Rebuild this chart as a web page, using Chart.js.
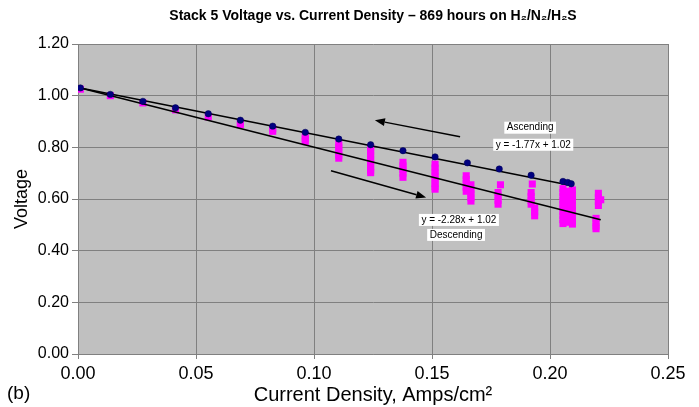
<!DOCTYPE html>
<html>
<head>
<meta charset="utf-8">
<script src="https://cdn.jsdelivr.net/npm/chart.js@4.4.0/dist/chart.umd.min.js"></script>
<style>
html,body{margin:0;padding:0;background:#fff;}
#wrap{width:699px;height:407px;position:relative;}
</style>
</head>
<body>
<div id="wrap"><canvas id="c" width="699" height="407"></canvas></div>
<script>
// Ascending (navy circles)
const ascX = [0.001, 0.0137, 0.0275, 0.0413, 0.0552, 0.0688, 0.0825, 0.0963, 0.1105, 0.124, 0.1377, 0.1513, 0.165, 0.1785, 0.192, 0.2055, 0.2075, 0.209];
const ascY = [1.03, 1.005, 0.978, 0.953, 0.93, 0.905, 0.882, 0.858, 0.832, 0.81, 0.787, 0.763, 0.74, 0.716, 0.692, 0.668, 0.664, 0.659];

// Descending (magenta squares)
const descX = [
  0.001, 0.0137, 0.0275, 0.0413, 0.0552,
  0.0688, 0.0688, 0.0825, 0.0825,
  0.0963, 0.0963, 0.0963,
  0.1105, 0.1105, 0.1105, 0.1105, 0.1105,
  0.124, 0.124, 0.124, 0.124, 0.124, 0.124, 0.124, 0.124,
  0.1377, 0.1377, 0.1377, 0.1377, 0.1377,
  0.1513, 0.1513, 0.1513, 0.1513, 0.1513, 0.1513, 0.1513, 0.1513,
  0.1645, 0.1645, 0.1645, 0.1645, 0.1645, 0.1665, 0.1665, 0.1665, 0.1665, 0.1665,
  0.179, 0.178, 0.178, 0.178, 0.178,
  0.1925, 0.192, 0.192, 0.192, 0.192, 0.1935, 0.1935, 0.1935,
  0.2055, 0.2055, 0.2055, 0.2055, 0.2055, 0.2055, 0.2055, 0.2055, 0.2055, 0.2055,
  0.2075, 0.2075, 0.2075, 0.2075, 0.2075, 0.2075, 0.2075,
  0.2095, 0.2095, 0.2095, 0.2095, 0.2095, 0.2095, 0.2095, 0.2095,
  0.2205, 0.2205, 0.2205, 0.2205, 0.2215,
  0.2195, 0.2195, 0.2195, 0.2195
];
const descY = [
  1.025, 1.0, 0.972, 0.945, 0.918,
  0.895, 0.888, 0.872, 0.862,
  0.845, 0.832, 0.822,
  0.815, 0.80, 0.785, 0.77, 0.758,
  0.80, 0.785, 0.77, 0.755, 0.74, 0.725, 0.712, 0.702,
  0.742, 0.728, 0.714, 0.70, 0.684,
  0.735, 0.72, 0.705, 0.69, 0.675, 0.66, 0.648, 0.638,
  0.69, 0.675, 0.66, 0.645, 0.63, 0.655, 0.635, 0.62, 0.605, 0.592,
  0.655, 0.625, 0.61, 0.595, 0.58,
  0.658, 0.625, 0.61, 0.595, 0.58, 0.565, 0.55, 0.535,
  0.64, 0.625, 0.61, 0.595, 0.58, 0.565, 0.55, 0.535, 0.52, 0.505,
  0.63, 0.61, 0.59, 0.57, 0.55, 0.53, 0.51,
  0.635, 0.615, 0.595, 0.575, 0.555, 0.535, 0.515, 0.503,
  0.622, 0.605, 0.59, 0.575, 0.597,
  0.525, 0.51, 0.495, 0.485
];

// Trend lines (end points)
const ascLineX = [0.001, 0.209];
const ascLineY = [1.03, 0.652];
const descLineX = [0.001, 0.2215];
const descLineY = [1.03, 0.52];

// Tick values
const xTicks = [0, 0.05, 0.10, 0.15, 0.20, 0.25];
const yTicks = [0, 0.2, 0.4, 0.6, 0.8, 1.0, 1.2];

const titleText = 'Stack 5 Voltage vs. Current Density \u2013 869 hours on H\u2082/N\u2082/H\u2082S';
const xTitle = 'Current Density, Amps/cm\u00B2';
const yTitle = 'Voltage';
const panelLabel = '(b)';

// Annotations (data coordinates)
const notes = [
  {text: 'Ascending', x: 0.1916, y: 0.876},
  {text: 'y = -1.77x + 1.02', x: 0.1929, y: 0.810},
  {text: 'y = -2.28x + 1.02', x: 0.1614, y: 0.519},
  {text: 'Descending', x: 0.1602, y: 0.461}
];
const arrows = [
  {x1: 0.1619, y1: 0.841, x2: 0.1258, y2: 0.905},
  {x1: 0.1072, y1: 0.709, x2: 0.1475, y2: 0.606}
];

const FONT = '"Liberation Sans", Arial, Helvetica, sans-serif';
const toPts = (xs, ys) => xs.map((x, i) => ({x: x, y: ys[i]}));

const bgPlugin = {
  id: 'bg',
  beforeDraw(chart) {
    const {ctx, chartArea: a} = chart;
    ctx.save();
    ctx.fillStyle = '#ffffff';
    ctx.fillRect(0, 0, chart.width, chart.height);
    ctx.fillStyle = '#c0c0c0';
    ctx.fillRect(a.left, a.top, a.right - a.left, a.bottom - a.top);
    ctx.restore();
  }
};

const textPlugin = {
  id: 'texts',
  afterDraw(chart) {
    const {ctx, chartArea: a, scales} = chart;
    const xs = scales.x, ys = scales.y;
    ctx.save();
    // title
    ctx.fillStyle = '#000';
    ctx.font = 'bold 14px ' + FONT;
    ctx.textAlign = 'center';
    ctx.textBaseline = 'middle';
    ctx.fillText(titleText, (a.left + a.right) / 2, 16);
    // panel label
    ctx.font = '19px ' + FONT;
    ctx.textAlign = 'left';
    ctx.fillText(panelLabel, 7, 394);
    // arrows
    ctx.strokeStyle = '#000';
    ctx.fillStyle = '#000';
    ctx.lineWidth = 1.5;
    arrows.forEach(ar => {
      const x1 = xs.getPixelForValue(ar.x1), y1 = ys.getPixelForValue(ar.y1);
      const x2 = xs.getPixelForValue(ar.x2), y2 = ys.getPixelForValue(ar.y2);
      const ang = Math.atan2(y2 - y1, x2 - x1);
      const L = 10, W = 4;
      const bx = x2 - L * Math.cos(ang), by = y2 - L * Math.sin(ang);
      ctx.beginPath();
      ctx.moveTo(x1, y1);
      ctx.lineTo(bx, by);
      ctx.stroke();
      ctx.beginPath();
      ctx.moveTo(x2, y2);
      ctx.lineTo(bx + W * Math.sin(ang), by - W * Math.cos(ang));
      ctx.lineTo(bx - W * Math.sin(ang), by + W * Math.cos(ang));
      ctx.closePath();
      ctx.fill();
    });
    // annotation boxes
    ctx.font = '10px ' + FONT;
    ctx.textAlign = 'center';
    ctx.textBaseline = 'middle';
    notes.forEach(n => {
      const px = xs.getPixelForValue(n.x), py = ys.getPixelForValue(n.y);
      const w = ctx.measureText(n.text).width + 5;
      ctx.fillStyle = '#ffffff';
      ctx.fillRect(px - w / 2, py - 6, w, 12);
      ctx.fillStyle = '#000';
      ctx.fillText(n.text, px, py);
    });
    ctx.restore();
  }
};

new Chart(document.getElementById('c'), {
  type: 'scatter',
  data: {
    datasets: [
      {
        label: 'Ascending',
        data: toPts(ascX, ascY),
        backgroundColor: '#000080',
        borderColor: '#000050',
        borderWidth: 0.5,
        pointRadius: 3.2,
        pointStyle: 'circle',
        showLine: false
      },
      {
        label: 'Ascending fit',
        data: toPts(ascLineX, ascLineY),
        showLine: true,
        borderColor: '#000000',
        borderWidth: 1.5,
        pointRadius: 0,
        fill: false
      },
      {
        label: 'Descending fit',
        data: toPts(descLineX, descLineY),
        showLine: true,
        borderColor: '#000000',
        borderWidth: 1.5,
        pointRadius: 0,
        fill: false
      },
      {
        label: 'Descending',
        data: toPts(descX, descY),
        backgroundColor: '#ff00ff',
        borderColor: '#ff00ff',
        borderWidth: 0,
        pointRadius: 5,
        pointStyle: 'rect',
        showLine: false
      }
    ]
  },
  options: {
    responsive: false,
    animation: false,
    events: [],
    layout: {padding: {left: 0, right: 31, top: 44, bottom: 0}},
    plugins: {
      legend: {display: false},
      tooltip: {enabled: false},
      title: {display: false}
    },
    scales: {
      x: {
        type: 'linear',
        min: 0, max: 0.25,
        afterFit(s) { s.height = 53; },
        afterBuildTicks(s) { s.ticks = xTicks.map(v => ({value: v})); },
        ticks: {
          color: '#000',
          font: {family: FONT, size: 18},
          padding: 4,
          maxRotation: 0,
          callback: v => Number(v).toFixed(2)
        },
        grid: {color: '#808080', lineWidth: 1, tickLength: 5, tickColor: '#808080'},
        border: {color: '#808080', width: 1},
        title: {
          display: true,
          text: xTitle,
          color: '#000',
          font: {family: FONT, size: 20, lineHeight: 0.8},
          padding: {top: 0, bottom: 4}
        }
      },
      y: {
        type: 'linear',
        min: 0, max: 1.2,
        afterFit(s) { s.width = 78; },
        afterBuildTicks(s) { s.ticks = yTicks.map(v => ({value: v})); },
        ticks: {
          color: '#000',
          font: {family: FONT, size: 16},
          padding: 3,
          callback: v => Number(v).toFixed(2)
        },
        grid: {color: '#808080', lineWidth: 1, tickLength: 6, tickColor: '#808080'},
        border: {color: '#808080', width: 1},
        title: {
          display: true,
          text: yTitle,
          color: '#000',
          font: {family: FONT, size: 18},
          padding: {top: 11, bottom: 0}
        }
      }
    }
  },
  plugins: [bgPlugin, textPlugin]
});
</script>
</body>
</html>
